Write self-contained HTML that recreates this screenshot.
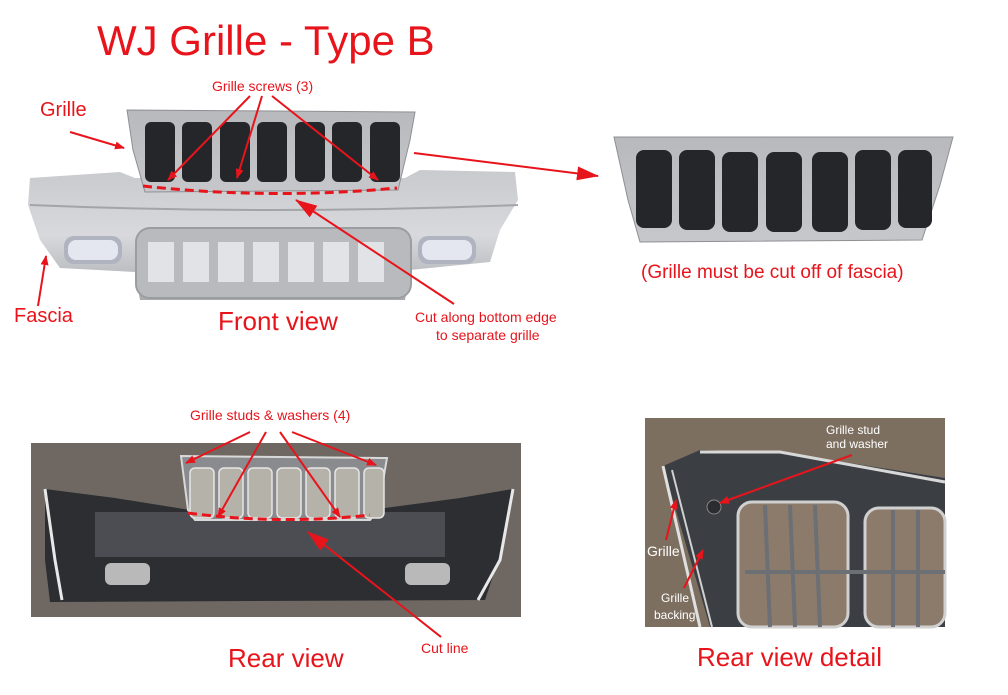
<!DOCTYPE html>
<html><head><meta charset="utf-8"><style>
html,body{margin:0;padding:0;background:#fff;width:1008px;height:695px;overflow:hidden}
svg{display:block}
text{font-family:"Liberation Sans",Arial,sans-serif;fill:#e8141b}
</style></head><body>
<svg width="1008" height="695" viewBox="0 0 1008 695" xmlns="http://www.w3.org/2000/svg">
<defs>
<linearGradient id="fas" x1="0" y1="0" x2="0" y2="1"><stop offset="0" stop-color="#c9cacd"/><stop offset="0.5" stop-color="#d8d9dc"/><stop offset="1" stop-color="#a9aaae"/></linearGradient>
<linearGradient id="gr" x1="0" y1="0" x2="0" y2="1"><stop offset="0" stop-color="#b8b9bc"/><stop offset="1" stop-color="#c6c7ca"/></linearGradient>
<marker id="ah" markerWidth="10" markerHeight="8" refX="9" refY="4" orient="auto" markerUnits="userSpaceOnUse" viewBox="0 0 10 8"><path d="M0,0 L10,4 L0,8z" fill="#e8141b"/></marker>
<marker id="ahb" markerWidth="22" markerHeight="14" refX="21" refY="7" orient="auto" markerUnits="userSpaceOnUse" viewBox="0 0 22 14"><path d="M0,0 L22,7 L0,14z" fill="#e8141b"/></marker>
</defs>

<text x="97" y="55" font-size="42">WJ Grille - Type B</text>

<!-- Front view fascia -->
<path d="M30,178 L120,172 L135,178 L405,178 L420,170 L515,172 L518,200 L500,230 L490,262 L410,270 L405,300 L140,300 L135,272 L60,268 L40,240 L28,205 Z" fill="url(#fas)"/>
<path d="M30,205 Q270,215 518,205" stroke="#a3a4a8" stroke-width="2" fill="none"/>
<rect x="64" y="236" width="58" height="28" rx="10" fill="#b0b3c0"/>
<rect x="68" y="240" width="50" height="20" rx="8" fill="#e4e6f0"/>
<rect x="418" y="236" width="58" height="28" rx="10" fill="#b0b3c0"/>
<rect x="422" y="240" width="50" height="20" rx="8" fill="#e4e6f0"/>
<rect x="136" y="228" width="275" height="70" rx="14" fill="#b9babd" stroke="#9c9da1" stroke-width="2"/>
<g fill="#e2e3e6">
<rect x="148" y="242" width="26" height="40"/><rect x="183" y="242" width="26" height="40"/><rect x="218" y="242" width="26" height="40"/><rect x="253" y="242" width="26" height="40"/><rect x="288" y="242" width="26" height="40"/><rect x="323" y="242" width="26" height="40"/><rect x="358" y="242" width="26" height="40"/>
</g>
<!-- front grille -->
<path d="M127,110 L415,112 L410,140 L398,190 L145,192 L133,150 Z" fill="url(#gr)" stroke="#8f9094"/>
<g fill="#25262a">
<rect x="145" y="122" width="30" height="60" rx="6"/><rect x="182" y="122" width="30" height="60" rx="6"/><rect x="220" y="122" width="30" height="60" rx="6"/><rect x="257" y="122" width="30" height="60" rx="6"/><rect x="295" y="122" width="30" height="60" rx="6"/><rect x="332" y="122" width="30" height="60" rx="6"/><rect x="370" y="122" width="30" height="60" rx="6"/>
</g>
<path d="M143,186 Q270,200 397,188" stroke="#e8141b" stroke-width="3" stroke-dasharray="9,5" fill="none"/>

<text x="40" y="116" font-size="20">Grille</text>
<line x1="70" y1="132" x2="124" y2="148" stroke="#e8141b" stroke-width="2" marker-end="url(#ah)"/>
<text x="212" y="91" font-size="14">Grille screws (3)</text>
<line x1="250" y1="96" x2="168" y2="180" stroke="#e8141b" stroke-width="2" marker-end="url(#ah)"/>
<line x1="262" y1="96" x2="237" y2="178" stroke="#e8141b" stroke-width="2" marker-end="url(#ah)"/>
<line x1="272" y1="96" x2="378" y2="180" stroke="#e8141b" stroke-width="2" marker-end="url(#ah)"/>
<text x="14" y="322" font-size="20">Fascia</text>
<line x1="38" y1="306" x2="46" y2="256" stroke="#e8141b" stroke-width="2" marker-end="url(#ah)"/>
<text x="218" y="330" font-size="26">Front view</text>
<text x="415" y="322" font-size="14">Cut along bottom edge</text>
<text x="436" y="340" font-size="14">to separate grille</text>
<line x1="454" y1="304" x2="296" y2="200" stroke="#e8141b" stroke-width="2" marker-end="url(#ahb)"/>
<line x1="414" y1="153" x2="598" y2="176" stroke="#e8141b" stroke-width="2" marker-end="url(#ahb)"/>

<!-- right grille -->
<path d="M614,137 L953,137 L940,185 L922,240 L640,242 L628,200 Z" fill="url(#gr)" stroke="#8f9094"/>
<g fill="#25262a">
<rect x="636" y="150" width="36" height="78" rx="8"/><rect x="679" y="150" width="36" height="80" rx="8"/><rect x="722" y="152" width="36" height="80" rx="8"/><rect x="766" y="152" width="36" height="80" rx="8"/><rect x="812" y="152" width="36" height="80" rx="8"/><rect x="855" y="150" width="36" height="80" rx="8"/><rect x="898" y="150" width="34" height="78" rx="8"/>
</g>
<text x="641" y="278" font-size="19">(Grille must be cut off of fascia)</text>

<!-- Rear view photo -->
<rect x="31" y="443" width="490" height="174" fill="#6f6862"/>
<path d="M45,489 L115,498 L190,510 L200,520 L360,520 L370,510 L460,498 L513,489 L505,540 L485,600 L50,602 L45,560 Z" fill="#2c2e32"/>
<path d="M45,489 L55,560 L62,600" stroke="#e8e8e8" stroke-width="3" fill="none"/>
<path d="M513,489 L500,560 L478,600" stroke="#e8e8e8" stroke-width="3" fill="none"/>
<rect x="95" y="512" width="350" height="45" fill="#4c4d52"/>
<path d="M181,456 L387,458 L378,510 L370,520 L195,520 L188,510 Z" fill="#8a8b8f" stroke="#d8d8d8" stroke-width="2"/>
<g fill="#b5b2aa" stroke="#e6e6e6" stroke-width="1.5">
<rect x="190" y="468" width="24" height="50" rx="5"/><rect x="219" y="468" width="24" height="50" rx="5"/><rect x="248" y="468" width="24" height="50" rx="5"/><rect x="277" y="468" width="24" height="50" rx="5"/><rect x="306" y="468" width="24" height="50" rx="5"/><rect x="335" y="468" width="24" height="50" rx="5"/><rect x="364" y="468" width="20" height="50" rx="5"/>
</g>
<rect x="105" y="563" width="45" height="22" rx="6" fill="#b9b9b9"/>
<rect x="405" y="563" width="45" height="22" rx="6" fill="#b9b9b9"/>
<path d="M188,513 Q280,525 370,515" stroke="#e8141b" stroke-width="3" stroke-dasharray="9,5" fill="none"/>
<text x="190" y="420" font-size="14">Grille studs &amp; washers (4)</text>
<line x1="250" y1="432" x2="186" y2="463" stroke="#e8141b" stroke-width="2" marker-end="url(#ah)"/>
<line x1="266" y1="432" x2="218" y2="517" stroke="#e8141b" stroke-width="2" marker-end="url(#ah)"/>
<line x1="280" y1="432" x2="340" y2="517" stroke="#e8141b" stroke-width="2" marker-end="url(#ah)"/>
<line x1="292" y1="432" x2="376" y2="465" stroke="#e8141b" stroke-width="2" marker-end="url(#ah)"/>
<line x1="441" y1="637" x2="308" y2="532" stroke="#e8141b" stroke-width="2" marker-end="url(#ahb)"/>
<text x="421" y="653" font-size="14">Cut line</text>
<text x="228" y="667" font-size="26">Rear view</text>

<!-- Rear detail photo -->
<rect x="645" y="418" width="300" height="209" fill="#7d6f60"/>
<path d="M663,466 L700,450 L780,452 L945,478 L945,627 L770,627 L710,627 Z" fill="#3b3f44"/>
<path d="M663,466 L700,627" stroke="#e0e0e0" stroke-width="3" fill="none"/>
<path d="M672,470 L712,627" stroke="#d0d0d0" stroke-width="2" fill="none"/>
<path d="M700,452 L780,452 L945,482" stroke="#d8d8d8" stroke-width="3" fill="none"/>
<rect x="738" y="502" width="110" height="125" rx="14" fill="#8c7b6a" stroke="#d0d0d0" stroke-width="3"/>
<rect x="865" y="508" width="80" height="119" rx="14" fill="#8c7b6a" stroke="#d0d0d0" stroke-width="3"/>
<g stroke="#6c6f74" stroke-width="4">
<line x1="765" y1="505" x2="770" y2="627"/><line x1="790" y1="505" x2="795" y2="627"/><line x1="815" y1="505" x2="820" y2="627"/><line x1="893" y1="510" x2="893" y2="627"/><line x1="918" y1="510" x2="918" y2="627"/>
<line x1="745" y1="572" x2="945" y2="572"/>
</g>
<circle cx="714" cy="507" r="7" fill="#2a2c30" stroke="#888"/>
<text x="826" y="434" font-size="12" style="fill:#fff">Grille stud</text>
<text x="826" y="448" font-size="12" style="fill:#fff">and washer</text>
<line x1="852" y1="455" x2="720" y2="503" stroke="#e8141b" stroke-width="2" marker-end="url(#ah)"/>
<text x="647" y="556" font-size="14" style="fill:#fff">Grille</text>
<line x1="666" y1="540" x2="676" y2="500" stroke="#e8141b" stroke-width="2" marker-end="url(#ah)"/>
<text x="661" y="602" font-size="12" style="fill:#fff">Grille</text>
<text x="654" y="619" font-size="12" style="fill:#fff">backing</text>
<line x1="684" y1="588" x2="703" y2="550" stroke="#e8141b" stroke-width="2" marker-end="url(#ah)"/>
<text x="697" y="666" font-size="26">Rear view detail</text>
</svg>
</body></html>
